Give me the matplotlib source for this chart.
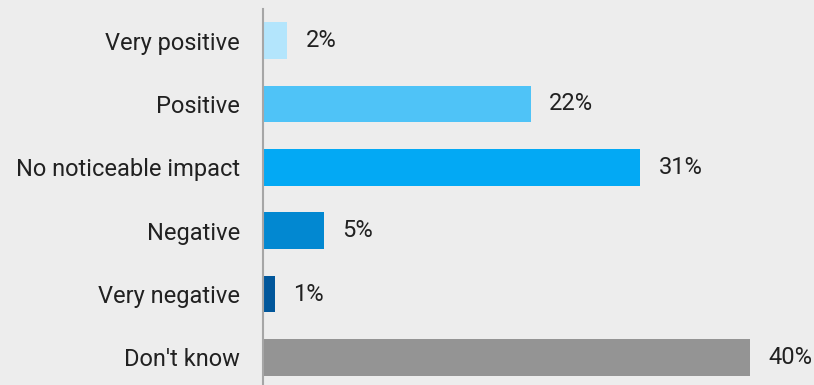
import numpy as np
import matplotlib.pyplot as plt

plt.rcParams['font.family'] = ['Roboto', 'DejaVu Sans']

categories = ['Very positive', 'Positive', 'No noticeable impact',
              'Negative', 'Very negative', "Don't know"]
shares = [2, 22, 31, 5, 1, 40]
colors = ['#b3e5fc', '#4fc3f7', '#03a9f4', '#0288d1', '#01579b', '#949494']

bg = '#ededed'
fig = plt.figure(figsize=(8.14, 3.85), dpi=100, facecolor=bg)
ax = fig.add_axes([263 / 814, 0, 1 - 263 / 814, 376 / 385])
ax.set_facecolor(bg)

y = np.arange(len(categories))
ax.barh(y, shares, height=0.58, color=colors)

for yi, v in zip(y, shares):
    ax.annotate(f'{v}%', (v, yi), xytext=(13, 0), textcoords='offset points',
                ha='left', va='center', fontsize=17, color='#212121')

ax.set_xlim(0, 551 / 12.175)
ax.set_ylim(5.434, -0.497)
ax.set_yticks(y)
ax.set_yticklabels(categories, fontsize=17, color='#212121')
ax.tick_params(axis='y', length=0, pad=16.5)
ax.set_xticks([])
for side in ['top', 'right', 'bottom']:
    ax.spines[side].set_visible(False)
ax.spines['left'].set_color('#a6a6a6')
ax.spines['left'].set_linewidth(1.5)

fig.savefig('out.png', dpi=100, facecolor=bg)
